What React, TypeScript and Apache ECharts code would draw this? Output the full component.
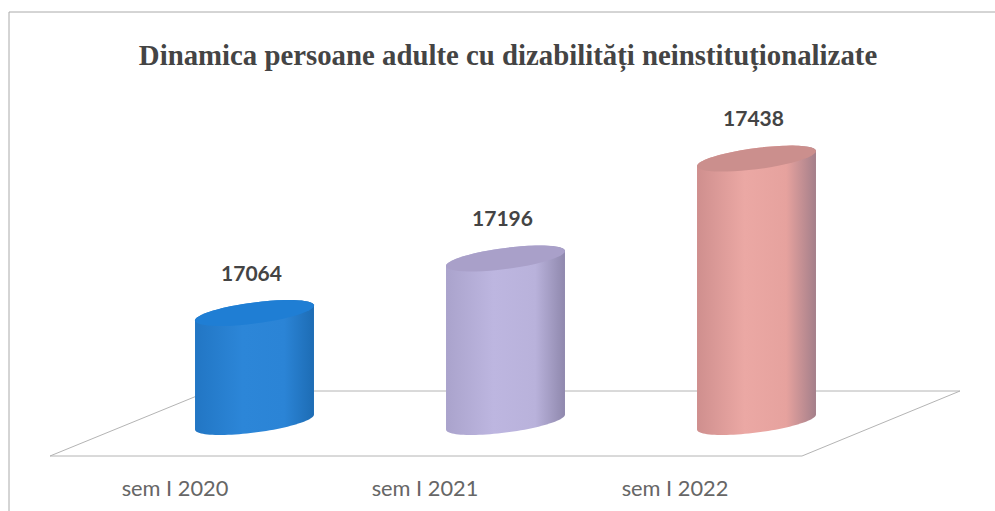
import React, { useEffect, useRef } from "react";
import * as echarts from "echarts";

const titleText = "Dinamica persoane adulte cu dizabilități neinstituționalizate";
const categories = ["sem I 2020", "sem I 2021", "sem I 2022"];
const values = [17064, 17196, 17438];
const sideStops = [
  ["#2276c4", "#2c86d8", "#2b84d6", "#1d6cb4"],
  ["#aaa3cc", "#bdb6e0", "#b9b2db", "#8f88ad"],
  ["#cf8f8e", "#eba8a4", "#e6a29e", "#a47f8a"],
];
const capColors = ["#1f7ed4", "#a9a0c9", "#cb8f8d"];

function renderCylinder(params: any, api: any) {
  const i = api.value(0);
  const top = api.coord([i, api.value(1)]);
  const base = api.coord([i, 16800]);
  const a = api.size([1, 0])[0] * 0.237;
  const b = 10.6;
  const k = 7.5;
  const steps = 48;
  const pt = (cy: number, t: number) => [
    top[0] + a * Math.cos(t),
    cy + b * Math.sin(t) - k * Math.cos(t),
  ];
  const arc = (cy: number, from: number, to: number) => {
    const out: number[][] = [];
    for (let s = 0; s <= steps; s++) out.push(pt(cy, from + ((to - from) * s) / steps));
    return out;
  };
  const stops = sideStops[i];
  const body = [...arc(base[1], Math.PI, 0), ...arc(top[1], 0, -Math.PI)];
  const cap = arc(top[1], 0, Math.PI * 2);
  return {
    type: "group",
    children: [
      {
        type: "polygon",
        shape: { points: body },
        style: {
          fill: new echarts.graphic.LinearGradient(0, 0, 1, 0, [
            { offset: 0, color: stops[0] },
            { offset: 0.4, color: stops[1] },
            { offset: 0.75, color: stops[2] },
            { offset: 1, color: stops[3] },
          ]),
        },
      },
      {
        type: "polygon",
        shape: { points: cap },
        style: { fill: capColors[i] },
      },
      {
        type: "text",
        style: {
          x: top[0] - 3,
          y: top[1] - 41,
          text: String(api.value(1)),
          fill: "#444",
          font: "bold 21px Lato",
          align: "center",
          verticalAlign: "middle",
        },
      },
    ],
  };
}

export default function App() {
  const ref = useRef<HTMLDivElement>(null);
  useEffect(() => {
    const chart = echarts.init(ref.current!, undefined, { renderer: "svg" });
    const line = { stroke: "#b4b4b4", lineWidth: 1 };
    chart.setOption({
      animation: false,
      backgroundColor: "#fff",
      title: {
        text: titleText,
        left: 503,
        top: 35,
        textAlign: "center",
        textStyle: {
          fontFamily: "Liberation Serif",
          fontWeight: "bold",
          fontSize: 28.8,
          color: "#444",
        },
      },
      graphic: [
        { type: "line", z: 0, shape: { x1: 9, y1: 12, x2: 995, y2: 12 }, style: { stroke: "#aaa", lineWidth: 1 } },
        { type: "line", z: 0, shape: { x1: 9, y1: 12, x2: 9, y2: 511 }, style: { stroke: "#aaa", lineWidth: 1 } },
        { type: "polyline", z: 0, shape: { points: [[209, 391], [50, 456], [802, 456], [960, 391], [209, 391]] }, style: { ...line, fill: "none" } },
      ],
      grid: [
        { left: 129, width: 753, top: 133, height: 289 },
        { left: 50, width: 750, top: 133, height: 322 },
      ],
      xAxis: [
        { type: "category", gridIndex: 0, data: categories, show: false },
        {
          type: "category",
          gridIndex: 1,
          data: categories,
          axisLine: { show: false },
          axisTick: { show: false },
          axisLabel: { margin: 21, fontFamily: "Lato", fontSize: 21.8, color: "#666" },
        },
      ],
      yAxis: [
        { type: "value", gridIndex: 0, min: 16800, max: 17500, show: false },
        { type: "value", gridIndex: 1, show: false },
      ],
      series: [
        {
          type: "custom",
          xAxisIndex: 0,
          yAxisIndex: 0,
          z: 5,
          clip: false,
          renderItem: renderCylinder,
          encode: { x: 0, y: 1 },
          data: values.map((v, i) => [i, v]),
        },
      ],
    });
    return () => chart.dispose();
  }, []);
  return (
    <div
      ref={ref}
      style={{ position: "fixed", left: 0, top: 0, width: 995, height: 511 }}
    />
  );
}
